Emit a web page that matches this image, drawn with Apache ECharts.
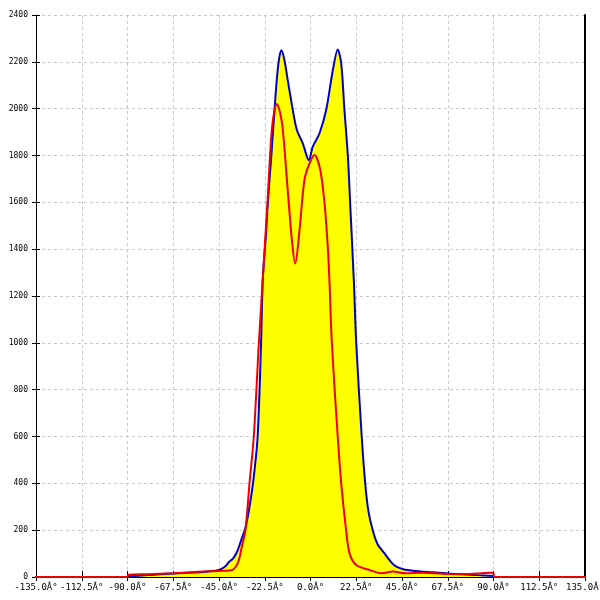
<!DOCTYPE html>
<html><head><meta charset="utf-8">
<script src="https://cdn.jsdelivr.net/npm/echarts@6/dist/echarts.min.js"></script>
<style>html,body{margin:0;padding:0;background:#fff}#c{width:600px;height:600px}</style>
</head><body><div id="c"></div>
<script>
// x tick labels (as shown in the source, including its encoding artefact)
const xTicks = [-135, -112.5, -90, -67.5, -45, -22.5, 0, 22.5, 45, 67.5, 90, 112.5, 135];
const yTicks = [0, 200, 400, 600, 800, 1000, 1200, 1400, 1600, 1800, 2000, 2200, 2400];

// blue (filled) curve
const blueAngles = [-90,-80,-70,-60,-50,-45,-42,-40,-38,-36,-34,-32,-30,-28,-26,-24.3,-23.5,-22,-21,-19.3,-17.7,-16.6,-15.5,-14.4,-13,-11.2,-8.7,-6.7,-3.8,-0.8,1.1,4.4,7.7,11,13.4,15.1,16.7,18.4,19.5,21.3,22.5,25.2,26.9,28.5,30.6,33,36.4,40,42.2,46,50.3,60,67.5,75,82,90];
const blueValues = [3,8,14,18,24,30,45,65,80,110,160,210,300,420,600,1000,1268,1450,1596,1795,1994,2122,2210,2250,2215,2122,1994,1909,1852,1780,1837,1894,1994,2165,2253,2193,1994,1795,1596,1268,998,599,400,280,200,140,101,60,44,32,27,20,15,12,8,4];

// red curve (extends as a zero baseline beyond the plotted range)
const redAngles = [-160,-90,-89.5,-80,-67.5,-55,-45,-40,-38,-36,-35,-33.5,-32,-30,-27.9,-25.4,-23.5,-21,-19.3,-18,-16.6,-15,-13.6,-11.2,-9,-7.5,-5.4,-3,-0.5,2,4.8,6.9,8.5,9.3,10.5,13.4,15.1,17.5,19.2,22.5,29,34.8,40.5,47,55,65,75,82,88,90,90.3,160];
const redValues = [0,0,10,12,16,22,26,28,32,55,80,140,200,400,599,998,1268,1624,1880,1980,2020,1985,1909,1652,1425,1339,1481,1695,1766,1802,1738,1596,1410,1268,998,599,400,200,101,51,30,16,23,16,18,14,12,15,18,17,0,0];

const pair = (xs, ys) => xs.map((x, i) => [x, ys[i]]);
const chart = echarts.init(document.getElementById('c'), null, {renderer: 'canvas'});
const gridLine = {show: true, lineStyle: {color: '#c8c8c8', type: [3, 3], width: 1}};
const xBase = {type: 'value', min: xTicks[0], max: xTicks[xTicks.length - 1], interval: 22.5};
const yBase = {type: 'value', min: yTicks[0], max: yTicks[yTicks.length - 1], interval: 200};
chart.setOption({
  animation: false,
  backgroundColor: '#ffffff',
  grid: {left: 36, right: 15, top: 15, bottom: 23, containLabel: false, outerBoundsMode: 'none'},
  xAxis: [
    Object.assign({}, xBase, {
      axisLine: {show: true, onZero: false, lineStyle: {color: '#000', width: 1}},
      axisTick: {show: true, length: 4, inside: false, lineStyle: {color: '#000'}},
      axisLabel: {color: '#000', fontFamily: 'DejaVu Sans Mono', fontSize: 9, margin: 6,
        hideOverlap: false, showMinLabel: true, showMaxLabel: true,
        formatter: v => v.toFixed(1) + 'Â°'},
      splitLine: gridLine
    }),
    Object.assign({}, xBase, {
      position: 'bottom',
      axisLine: {show: false, onZero: false},
      axisTick: {show: true, length: 6, inside: true, lineStyle: {color: '#000'}},
      axisLabel: {show: false}, splitLine: {show: false}
    })
  ],
  yAxis: [
    Object.assign({}, yBase, {
      axisLine: {show: true, onZero: false, lineStyle: {color: '#000', width: 1}},
      axisTick: {show: true, length: 4, lineStyle: {color: '#000'}},
      axisLabel: {color: '#000', fontFamily: 'DejaVu Sans Mono', fontSize: 8, margin: 8,
        formatter: v => String(v)},
      splitLine: gridLine
    }),
    Object.assign({}, yBase, {
      position: 'left',
      axisLine: {show: false, onZero: false},
      axisTick: {show: true, length: 4, inside: true, lineStyle: {color: '#000'}},
      axisLabel: {show: false}, splitLine: {show: false}
    }),
    Object.assign({}, yBase, {
      position: 'right',
      axisLine: {show: true, onZero: false, lineStyle: {color: '#000', width: 2}},
      axisTick: {show: false}, axisLabel: {show: false}, splitLine: {show: false}
    })
  ],
  series: [
    {type: 'line', data: pair(blueAngles, blueValues), showSymbol: false, smooth: 0.3,
     lineStyle: {color: '#0000cc', width: 2}, areaStyle: {color: '#ffff00', opacity: 1}, z: 2},
    {type: 'line', data: pair(redAngles, redValues), showSymbol: false, smooth: 0.3, clip: false,
     lineStyle: {color: '#ee0000', width: 2}, z: 3}
  ]
});
</script></body></html>
